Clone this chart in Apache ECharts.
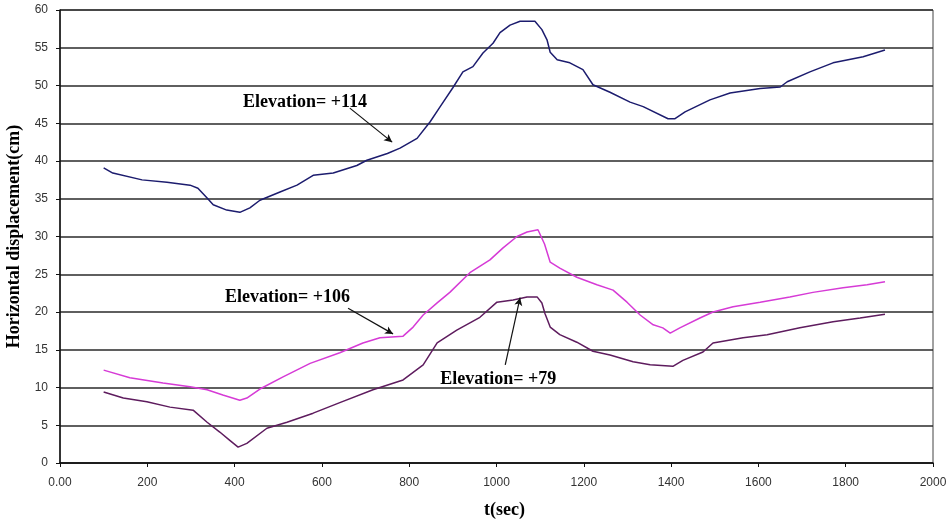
<!DOCTYPE html>
<html>
<head>
<meta charset="utf-8">
<script src="https://cdn.jsdelivr.net/npm/echarts@6/dist/echarts.min.js"></script>
<style>
  html, body { margin: 0; padding: 0; background: #fff; }
  #chart { width: 951px; height: 525px; }
</style>
</head>
<body>
<div id="chart"></div>
<script>
// Horizontal displacement at three elevations over time
const timeE114 = [100,121,188,245,298,316,337,351,382,412,435,458,504,543,580,626,680,703,750,779,818,848,871,900,923,946,969,992,1008,1031,1054,1088,1104,1116,1123,1139,1168,1198,1221,1260,1306,1336,1393,1409,1432,1489,1535,1604,1650,1666,1718,1771,1840,1890];
const dispE114 = [39.1,38.4,37.5,37.2,36.8,36.4,35.1,34.2,33.5,33.2,33.8,34.8,35.9,36.8,38.1,38.4,39.4,40.1,41.0,41.7,43.0,45.2,47.2,49.7,51.8,52.5,54.3,55.6,57.0,58.0,58.5,58.5,57.4,56.0,54.4,53.4,53.0,52.1,50.1,49.1,47.8,47.2,45.6,45.6,46.5,48.1,49.0,49.6,49.8,50.5,51.8,53.0,53.8,54.7];

const timeE106 = [100,160,236,298,337,373,412,428,458,511,573,641,694,733,786,809,832,864,893,939,985,1015,1047,1070,1095,1110,1123,1145,1184,1230,1267,1299,1329,1359,1381,1398,1420,1466,1496,1542,1604,1672,1725,1794,1849,1890];
const dispE106 = [12.3,11.3,10.6,10.1,9.7,9.0,8.3,8.6,9.8,11.4,13.2,14.6,15.9,16.6,16.8,18.0,19.6,21.2,22.6,25.2,26.9,28.5,30.0,30.6,30.9,29.0,26.6,25.8,24.6,23.6,22.9,21.3,19.6,18.3,17.9,17.2,17.9,19.2,20.0,20.7,21.3,22.0,22.6,23.2,23.6,24.0];

const timeE79 = [100,145,199,252,305,337,366,389,408,428,474,520,580,641,717,786,832,864,909,962,1001,1038,1070,1093,1104,1111,1123,1145,1184,1221,1260,1313,1352,1404,1427,1473,1496,1565,1620,1695,1771,1833,1890];
const dispE79 = [9.4,8.6,8.1,7.4,7.0,5.4,4.1,3.0,2.1,2.6,4.6,5.4,6.6,8.0,9.7,11.0,13.0,15.9,17.6,19.3,21.3,21.6,22.0,22.0,21.2,19.8,18.0,17.0,16.0,14.8,14.3,13.4,13.0,12.8,13.6,14.7,15.9,16.6,17.0,17.9,18.7,19.2,19.7];

const xTickLabels = ['0.00','200','400','600','800','1000','1200','1400','1600','1800','2000'];

// Callout text and arrow (tail, head) in data coordinates
const calloutText = ['Elevation= +114', 'Elevation= +106', 'Elevation= +79'];
const calloutAt = [[419, 47.8], [378, 21.9], [871, 11.1]];
const arrowTail = [[664, 47.0], [660, 20.5], [1020, 13.0]];
const arrowHead = [[761, 42.5], [763, 17.1], [1054, 21.9]];

const zip = (xs, ys) => xs.map((x, i) => [x, ys[i]]);

const serifBold = { fontFamily: 'Liberation Serif', fontWeight: 'bold', color: '#000' };

const chart = echarts.init(document.getElementById('chart'));

const arrowSeries = {
  type: 'line',
  data: [],
  silent: true,
  markLine: {
    silent: true,
    animation: false,
    symbol: ['none', 'arrow'],
    symbolSize: [6, 8],
    lineStyle: { color: '#111', width: 1.2, type: 'solid' },
    label: { show: false },
    data: arrowTail.map((t, i) => [{ coord: t }, { coord: arrowHead[i] }])
  },
  markPoint: {
    silent: true,
    animation: false,
    symbol: 'circle',
    symbolSize: 0,
    label: {
      show: true,
      position: 'right',
      distance: 0,
      fontSize: 18,
      ...serifBold,
      formatter: p => p.name
    },
    data: calloutText.map((s, i) => ({ name: s, coord: calloutAt[i] }))
  }
};

chart.setOption({
  animation: false,
  backgroundColor: '#fff',
  grid: {
    left: 60, right: 18, top: 10, bottom: 62,
    outerBoundsMode: 'none',
    show: true, borderColor: '#444', borderWidth: 1
  },
  xAxis: {
    type: 'value',
    min: 0, max: 2000, interval: 200,
    name: 't(sec)',
    nameLocation: 'middle',
    nameGap: 38,
    nameTextStyle: { fontSize: 18, ...serifBold, padding: [0, 0, 0, 16] },
    axisLine: { lineStyle: { color: '#111', width: 1.5 } },
    axisTick: { show: true, length: 4, lineStyle: { color: '#111' } },
    axisLabel: {
      fontFamily: 'Liberation Sans', fontSize: 12, color: '#333', margin: 14,
      formatter: (v) => xTickLabels[Math.round(v / 200)]
    },
    splitLine: { show: false }
  },
  yAxis: {
    type: 'value',
    min: 0, max: 60, interval: 5,
    name: 'Horizontal displacement(cm)',
    nameLocation: 'middle',
    nameGap: 30,
    nameTextStyle: { fontSize: 18, ...serifBold },
    axisLine: { show: true, lineStyle: { color: '#111', width: 1.5 } },
    axisTick: { show: true, length: 4, lineStyle: { color: '#111' } },
    axisLabel: { fontFamily: 'Liberation Sans', fontSize: 12, color: '#333', margin: 12 },
    splitLine: { show: true, lineStyle: { color: '#2a2a2a', width: 1.6 } }
  },
  series: [
    {
      name: 'Elevation +114', type: 'line', data: zip(timeE114, dispE114),
      showSymbol: false, lineStyle: { color: '#1c1c6e', width: 1.5 }
    },
    {
      name: 'Elevation +106', type: 'line', data: zip(timeE106, dispE106),
      showSymbol: false, lineStyle: { color: '#d63bd6', width: 1.5 }
    },
    {
      name: 'Elevation +79', type: 'line', data: zip(timeE79, dispE79),
      showSymbol: false, lineStyle: { color: '#5e1c5e', width: 1.5 }
    },
    arrowSeries
  ]
});
</script>
</body>
</html>
